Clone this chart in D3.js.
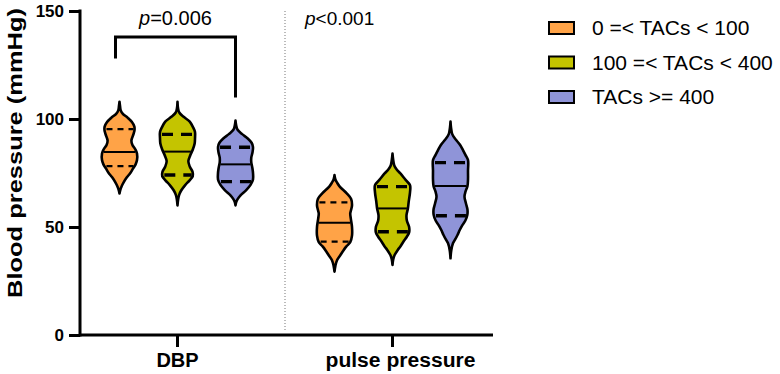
<!DOCTYPE html>
<html><head><meta charset="utf-8">
<script src="https://cdn.jsdelivr.net/npm/d3@7"></script>
<style>
html,body{margin:0;padding:0;background:#fff;}
svg{display:block;font-family:"Liberation Sans",Arial,sans-serif;}
</style></head>
<body><svg id="c" width="780" height="374"></svg>
<script>
// ---- data ----
const groups = ["DBP", "pulse pressure"];
const seriesNames = ["0 =< TACs < 100", "100 =< TACs < 400", "TACs >= 400"];
const seriesColors = ["#FFA347", "#C4C400", "#8F94D8"];
const yTicks = [0, 50, 100, 150];
const pValues = ["=0.006", "<0.001"];

// violin density profiles [value, relative width]
const dbpLow = [[108,0],[106,0.03],[104,0.07],[102.5,0.18],[100.5,0.48],[98.5,0.72],[96.5,0.85],[95,0.86],[93,0.8],[90,0.68],[88,0.74],[86,0.9],[84,1.0],[81,1.0],[79,0.92],[77,0.77],[75,0.62],[73,0.42],[71,0.26],[69,0.13],[67,0.04],[65.5,0]];
const dbpMid = [[108,0],[105,0.03],[103,0.1],[101,0.35],[98.8,0.7],[96,0.9],[94,1.0],[91,1.0],[88.7,0.98],[86,0.88],[83,0.72],[80.5,0.62],[78,0.7],[75.5,0.86],[73.5,0.87],[71.5,0.68],[69.4,0.44],[67,0.22],[65,0.1],[63,0.04],[60,0]];
const dbpHigh = [[99.3,0],[97,0.04],[95,0.12],[93,0.38],[91,0.7],[89,0.92],[87,1.0],[84.5,0.97],[82,0.9],[80,0.9],[77.5,0.96],[75,1.0],[72,1.0],[69.5,0.86],[67,0.6],[64.8,0.3],[63,0.13],[61.5,0.04],[60,0]];
const ppLow = [[74,0],[72,0.05],[70.5,0.15],[68.7,0.3],[65.6,0.7],[63,0.95],[60,1.0],[58,0.95],[56.3,0.9],[54,0.93],[50,1.0],[46,1.0],[43,0.9],[41,0.68],[39,0.5],[37,0.34],[34.7,0.15],[32,0.05],[29.3,0]];
const ppMid = [[84,0],[81,0.04],[78.5,0.1],[76.5,0.25],[74.8,0.45],[71.8,0.75],[69.4,1.0],[66,1.0],[62,0.93],[58.6,0.88],[55.5,0.8],[53,0.82],[50,0.95],[47.5,0.95],[45.5,0.82],[43.2,0.62],[41,0.45],[39.4,0.3],[37,0.12],[35,0.04],[32.4,0]];
const ppHigh = [[98.8,0],[96,0.03],[93,0.1],[90.5,0.3],[88,0.55],[85.5,0.72],[83.3,0.86],[81,1.0],[76,1.0],[72,1.0],[69,0.97],[66.5,0.86],[64,0.8],[61,0.88],[58,0.97],[55.5,0.96],[53,0.85],[50.9,0.68],[48.5,0.52],[46.3,0.4],[44,0.25],[42.5,0.14],[39,0.04],[35.5,0]];
const profiles = [[dbpLow, dbpMid, dbpHigh], [ppLow, ppMid, ppHigh]];
// [q1, median, q3]
const quartiles = [[[78.2,84.7,95.3],[74.1,84.9,92.9],[71.0,79.0,86.9]],
                   [[43.2,52.0,61.4],[47.8,58.6,68.7],[55.2,69.0,79.8]]];
// significance bracket values (mmHg): left end, top, right end
const bracket = [128, 138, 110];

// ---- layout ----
const svg = d3.select("#c");
const y = d3.scaleLinear().domain([0,150]).range([335,11]);
const xg = d3.scaleBand().domain(groups).range([70,500]);
const xs = d3.scaleBand().domain(seriesNames).range([-87,87]);
const halfW = 17.5;
const cx = (g,s) => xg(groups[g]) + xg.bandwidth()/2 + xs(seriesNames[s]) + xs.bandwidth()/2;

function widthAt(prof, v){
  for (let i=0;i<prof.length-1;i++){
    const a=prof[i], b=prof[i+1];
    if ((v<=a[0] && v>=b[0])){
      const t=(a[0]-v)/(a[0]-b[0]);
      return a[1]+(b[1]-a[1])*t;
    }
  }
  return 0;
}

// separator
svg.append("line").attr("x1",285).attr("x2",285).attr("y1",y(150)).attr("y2",y(2))
  .attr("stroke","#777").attr("stroke-width",1).attr("stroke-dasharray","1,2");

// violins
profiles.forEach((gp,gi)=>{
  gp.forEach((prof,si)=>{
    const c = cx(gi,si);
    const area = d3.area().curve(d3.curveCatmullRom)
      .y(d=>y(d[0])).x0(d=>c-d[1]*halfW).x1(d=>c+d[1]*halfW);
    svg.append("path").attr("d",area(prof))
      .attr("fill",seriesColors[si]).attr("stroke","#000").attr("stroke-width",2.6)
      .attr("stroke-linejoin","round");
    const q = quartiles[gi][si];
    const thin = si===0;
    q.forEach((v,k)=>{
      const w = widthAt(prof,v)*halfW - 1;
      const ln = svg.append("line").attr("x1",c-w).attr("x2",c+w)
        .attr("y1",y(v)).attr("y2",y(v)).attr("stroke","#000");
      if (k===1){ ln.attr("stroke-width",2); }
      else if (thin){ ln.attr("stroke-width",2.2).attr("stroke-dasharray","6,5").attr("stroke-dashoffset",-1); }
      else { ln.attr("stroke-width",3.4).attr("stroke-dasharray","11,8").attr("stroke-dashoffset",-1); }
    });
  });
});

// axes
const yAxis = d3.axisLeft(y).tickValues(yTicks).tickSize(11).tickPadding(5).tickFormat(d3.format("d"));
const gy = svg.append("g").attr("transform","translate(80,0)").call(yAxis);
gy.select(".domain").remove();
gy.selectAll(".tick line").attr("stroke","#000").attr("stroke-width",3);
gy.selectAll(".tick text").attr("font-size",17).attr("font-weight","bold").attr("fill","#000")
  .attr("font-family","'Liberation Sans',Arial,sans-serif");
svg.append("line").attr("x1",80).attr("x2",80).attr("y1",y(150)-1.5).attr("y2",y(0)+1.5)
  .attr("stroke","#000").attr("stroke-width",3);

const xAxis = d3.axisBottom(xg).tickSize(12).tickPadding(6);
const gx = svg.append("g").attr("transform",`translate(0,${y(0)})`).call(xAxis);
gx.select(".domain").remove();
gx.selectAll(".tick line").attr("stroke","#000").attr("stroke-width",3);
gx.selectAll(".tick text").attr("font-size",20).attr("font-weight","bold").attr("fill","#000")
  .attr("font-family","'Liberation Sans',Arial,sans-serif");
gx.selectAll(".tick text").filter(d=>d==="pulse pressure").attr("dx",8)
  .attr("textLength",150).attr("lengthAdjust","spacingAndGlyphs");
svg.append("line").attr("x1",80).attr("x2",493).attr("y1",y(0)).attr("y2",y(0))
  .attr("stroke","#000").attr("stroke-width",3);

// y label
svg.append("text").attr("transform",`translate(22,153) rotate(-90)`)
  .attr("text-anchor","middle").attr("font-size",20).attr("font-weight","bold")
  .attr("textLength",290).attr("lengthAdjust","spacingAndGlyphs")
  .text("Blood pressure (mmHg)");

// bracket
const bl = cx(0,0)-4, br = cx(0,2);
svg.append("path").attr("d",`M${bl},${y(bracket[0])}V${y(bracket[1])}H${br}V${y(bracket[2])}`)
  .attr("fill","none").attr("stroke","#000").attr("stroke-width",3);

// p-values
const p1 = svg.append("text").attr("x",cx(0,1)-2).attr("y",25).attr("text-anchor","middle").attr("font-size",20);
p1.append("tspan").attr("font-style","italic").text("p");
p1.append("tspan").text(pValues[0]);
const p2 = svg.append("text").attr("x",305).attr("y",25).attr("font-size",19);
p2.append("tspan").attr("font-style","italic").text("p");
p2.append("tspan").text(pValues[1]);

// legend
const lg = svg.append("g");
seriesNames.forEach((n,i)=>{
  const yy = 28 + i*34.5;
  lg.append("rect").attr("x",549).attr("y",yy-6).attr("width",25).attr("height",12)
    .attr("fill",seriesColors[i]).attr("stroke","#000").attr("stroke-width",2);
  lg.append("text").attr("x",592).attr("y",yy+7).attr("font-size",21).text(n);
});
</script></body></html>
